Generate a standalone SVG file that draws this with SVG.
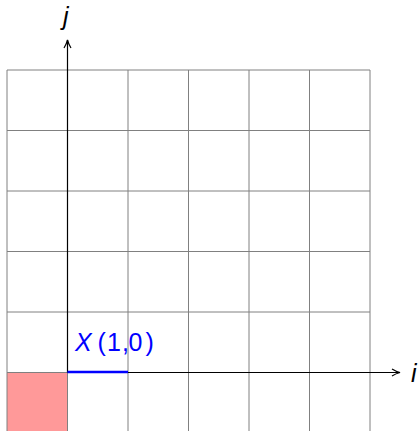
<svg xmlns="http://www.w3.org/2000/svg" width="418" height="431" viewBox="0 0 418 431">
<style>
.grid{stroke:#808080;stroke-width:1;fill:none}
.axis{stroke:#000;stroke-width:1.2;fill:none}
.lbl{font-family:"Liberation Sans",Arial,sans-serif;font-size:25px}
.it{font-style:italic}
</style>
<defs>
<marker id="arr" viewBox="0 0 10 10" refX="9" refY="5" markerWidth="10" markerHeight="10" markerUnits="userSpaceOnUse" orient="auto">
<path d="M1,1.5 Q5,4 9,5 Q5,6 1,8.5" fill="none" stroke="#000" stroke-width="1.2"/>
</marker>
</defs>
<rect id="cell" x="7" y="372.5" width="60.5" height="60.5" fill="#ff9999"/>
<g id="grid" class="grid">
<path d="M7,70V431 M67.5,70V431 M128,70V431 M188.5,70V431 M249,70V431 M309.5,70V431 M370,70V431"/>
<path d="M7,70H370 M7,130.5H370 M7,191H370 M7,251.5H370 M7,312H370 M7,372.5H370"/>
</g>
<g id="connectors">
<line class="axis" x1="67.5" y1="372.5" x2="67.5" y2="40" marker-end="url(#arr)"/>
<line class="axis" x1="67.5" y1="372.5" x2="400" y2="372.5" marker-end="url(#arr)"/>
<line x1="67.5" y1="372" x2="128" y2="372" stroke="#0000ff" stroke-width="2.4"/>
</g>
<g id="label-j"><text class="lbl it" x="63" y="25">j</text></g>
<g id="label-i"><text class="lbl it" x="411" y="382">i</text></g>
<g id="label-X" fill="#0000ff" class="lbl">
<text x="75" y="351" class="it">X</text>
<text x="97.5" y="351">(</text>
<text x="107" y="351">1</text>
<text x="122" y="351">,</text>
<text x="128.5" y="351">0</text>
<text x="145.5" y="351">)</text>
</g>
</svg>
